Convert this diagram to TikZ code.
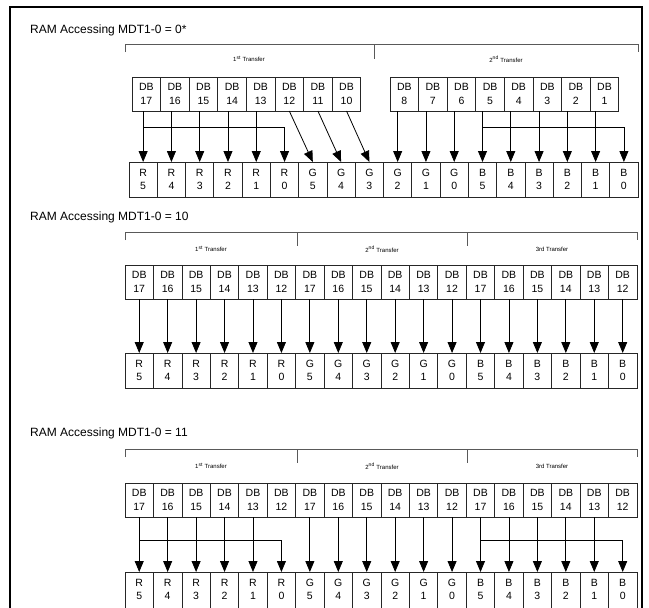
\documentclass[tikz,border=0pt]{standalone}
\usepackage{fontspec}
\setmainfont{Liberation Sans}
\usetikzlibrary{arrows.meta}
\begin{document}
\begin{tikzpicture}[x=1pt,y=-1pt,
  topcell/.style={draw=black!85, line width=0.7pt, inner sep=0pt, outer sep=0pt,
    anchor=north west, align=center, minimum height=34pt,
    font=\fontsize{10.5}{13.5}\selectfont},
  botcell/.style={topcell, minimum height=35pt},
  opencell/.style={botcell, draw=none},
  cellline/.style={draw=black!85, line width=0.7pt},
  arr/.style={draw=black, line width=0.8pt, -{Triangle[length=11pt,width=9pt]}},
  brk/.style={draw=black!65, line width=1pt},
  ttl/.style={anchor=west, inner sep=0pt, font=\fontsize{12}{14}\selectfont},
  xfer/.style={inner sep=0pt, font=\fontsize{6}{7}\selectfont},
  frame/.style={draw=black, line width=2.2pt}
]
\useasboundingbox (0,0) rectangle (649,608);
% outer frame
\draw[frame] (10,625) -- (10,7) -- (642,7) -- (642,625);

%================ Section 1 =================
\node[ttl] (title1) at (30,30) {RAM Accessing MDT1-0 = 0*};
\draw[brk] (125,52) -- (125,44) -- (638,44) -- (638,52);
\draw[brk] (374,44) -- (374,59);
\node[xfer] (x1a) at (249,59) {1\textsuperscript{st} Transfer};
\node[xfer] (x1b) at (506,59) {2\textsuperscript{nd} Transfer};
\foreach \n [count=\i from 0] in {17,16,15,14,13,12,11,10}
  \node[topcell, minimum width=28.6pt] (s1ta\i) at ({132+28.6*\i},77) {DB\\\n};
\foreach \n [count=\i from 0] in {8,7,6,5,4,3,2,1}
  \node[topcell, minimum width=28.6pt] (s1tb\i) at ({390+28.6*\i},77) {DB\\\n};
\foreach \c/\n [count=\i from 0] in {R/5,R/4,R/3,R/2,R/1,R/0,G/5,G/4,G/3,G/2,G/1,G/0,B/5,B/4,B/3,B/2,B/1,B/0}
  \node[botcell, minimum width=28.28pt] (s1b\i) at ({129+28.28*\i},162) {\c\\\n};
\coordinate (s1br) at (0,127);
\foreach \i in {0,...,4}
  \draw[arr] (s1ta\i.south -| s1b\i.north) -- (s1b\i.north);
\draw[arr] (s1b0.north |- s1br) -| (s1b5.north);
\draw[arr] (s1ta5.south) -- (s1b6.north);
\draw[arr] (s1ta6.south) -- (s1b7.north);
\draw[arr] (s1ta7.south) -- (s1b8.north);
\foreach \i/\j in {0/9,1/10,2/11,3/12,4/13,5/14,6/15,7/16}
  \draw[arr] (s1tb\i.south -| s1b\j.north) -- (s1b\j.north);
\draw[arr] (s1b12.north |- s1br) -| (s1b17.north);

%================ Section 2 =================
\node[ttl] (title2) at (30,217) {RAM Accessing MDT1-0 = 10};
\draw[brk] (125,240) -- (125,232) -- (637,232) -- (637,240);
\draw[brk] (297,232) -- (297,246);
\draw[brk] (467,232) -- (467,246);
\node[xfer] (x2a) at (211,249) {1\textsuperscript{st} Transfer};
\node[xfer] (x2b) at (382,249) {2\textsuperscript{nd} Transfer};
\node[xfer] (x2c) at (552,249) {3rd Transfer};
\foreach \n [count=\i from 0] in {17,16,15,14,13,12,17,16,15,14,13,12,17,16,15,14,13,12}
  \node[topcell, minimum width=28.44pt] (s2t\i) at ({125+28.44*\i},265) {DB\\\n};
\foreach \c/\n [count=\i from 0] in {R/5,R/4,R/3,R/2,R/1,R/0,G/5,G/4,G/3,G/2,G/1,G/0,B/5,B/4,B/3,B/2,B/1,B/0}
  \node[botcell, minimum width=28.44pt] (s2b\i) at ({125+28.44*\i},353) {\c\\\n};
\foreach \i in {0,...,17}
  \draw[arr] (s2t\i.south) -- (s2b\i.north);

%================ Section 3 =================
\node[ttl] (title3) at (30,433) {RAM Accessing MDT1-0 = 11};
\draw[brk] (125,457) -- (125,449) -- (637,449) -- (637,457);
\draw[brk] (297,449) -- (297,463);
\draw[brk] (467,449) -- (467,463);
\node[xfer] (x3a) at (211,466) {1\textsuperscript{st} Transfer};
\node[xfer] (x3b) at (382,466) {2\textsuperscript{nd} Transfer};
\node[xfer] (x3c) at (552,466) {3rd Transfer};
\foreach \n [count=\i from 0] in {17,16,15,14,13,12,17,16,15,14,13,12,17,16,15,14,13,12}
  \node[topcell, minimum width=28.44pt] (s3t\i) at ({125+28.44*\i},483) {DB\\\n};
\foreach \c/\n [count=\i from 0] in {R/5,R/4,R/3,R/2,R/1,R/0,G/5,G/4,G/3,G/2,G/1,G/0,B/5,B/4,B/3,B/2,B/1,B/0}{
  \node[opencell, minimum width=28.44pt] (s3b\i) at ({125+28.44*\i},572) {\c\\\n};
  \draw[cellline] (s3b\i.north west) rectangle ([yshift=-8pt]s3b\i.south east);
}
\coordinate (s3br) at (0,540);
\foreach \i in {0,...,4,6,7,8,9,10,11,12,13,14,15,16}
  \draw[arr] (s3t\i.south) -- (s3b\i.north);
\draw[arr] (s3b0.north |- s3br) -| (s3b5.north);
\draw[arr] (s3b12.north |- s3br) -| (s3b17.north);
\end{tikzpicture}
\end{document}
